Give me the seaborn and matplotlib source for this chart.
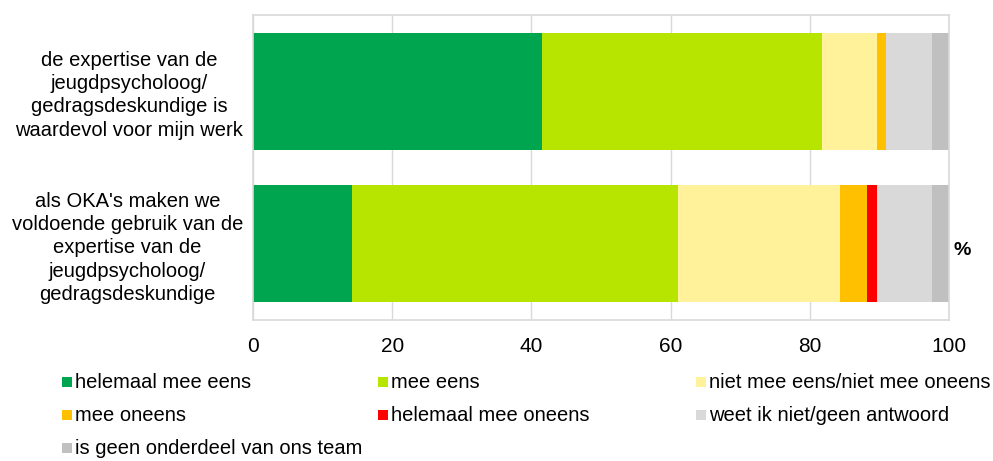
import numpy as np
import pandas as pd
import seaborn as sns
from matplotlib import pyplot as plt
from matplotlib.patches import Rectangle

# Statements (y categories)
statements = [
    "de expertise van de\njeugdpsycholoog/\ngedragsdeskundige is\nwaardevol voor mijn werk",
    "als OKA's maken we\nvoldoende gebruik van de\nexpertise van de\njeugdpsycholoog/\ngedragsdeskundige",
]

# Answer categories and colours
answers = [
    "helemaal mee eens",
    "mee eens",
    "niet mee eens/niet mee oneens",
    "mee oneens",
    "helemaal mee oneens",
    "weet ik niet/geen antwoord",
    "is geen onderdeel van ons team",
]
colors = ["#00A54F", "#B7E500", "#FFF29A", "#FFC000", "#FF0000", "#D9D9D9", "#C0C0C0"]

# Percentages per answer, one value per statement
helemaal_eens = [41.5, 14.2]
eens = [40.3, 46.9]
neutraal = [7.9, 23.3]
oneens = [1.2, 3.8]
helemaal_oneens = [0.0, 1.5]
weet_niet = [6.6, 7.8]
geen_onderdeel = [2.5, 2.5]

values = [helemaal_eens, eens, neutraal, oneens, helemaal_oneens, weet_niet, geen_onderdeel]

df = pd.DataFrame(np.array(values).T, columns=answers)
df["statement"] = statements
cum = df[answers].cumsum(axis=1)
cum["statement"] = statements

plt.rcParams["font.family"] = ["Liberation Sans", "DejaVu Sans"]

fig = plt.figure(figsize=(9.93, 4.61), dpi=100)
ax = fig.add_axes([253 / 993, 1 - 320 / 461, (949 - 253) / 993, (320 - 15) / 461])

# stacked bars: draw cumulative totals from last to first
for ans, col in reversed(list(zip(answers, colors))):
    sns.barplot(data=cum, x=ans, y="statement", color=col, width=0.77,
                orient="h", ax=ax, saturation=1, linewidth=0, zorder=2)

ax.set_xlim(0, 100)
ax.set_xticks([0, 20, 40, 60, 80, 100])
ax.grid(axis="x", color="#D9D9D9", linewidth=1, zorder=0)
ax.set_axisbelow(True)
ax.set_xlabel("")
ax.set_ylabel("")
for s in ax.spines.values():
    s.set_color("#D9D9D9")
    s.set_linewidth(1.2)
ax.tick_params(axis="both", length=0, colors="black")
ax.tick_params(axis="x", pad=12, labelsize=15)
ax.tick_params(axis="y", pad=7, labelsize=14.5)
for lab in ax.get_yticklabels():
    lab.set_multialignment("center")
    lab.set_linespacing(1.28)

fig.text(962 / 993, 1 - 250 / 461, "%", fontsize=14, fontweight="bold",
         ha="center", va="center")

# legend laid out in a 3-column grid
col_x = [62, 378, 696]
row_y = [382, 415, 448]
for i, (ans, col) in enumerate(zip(answers, colors)):
    x = col_x[i % 3]
    y = row_y[i // 3]
    fig.patches.append(Rectangle((x / 993, 1 - (y + 5) / 461), 10 / 993, 10 / 461,
                                 transform=fig.transFigure, facecolor=col,
                                 edgecolor="none", figure=fig))
    fig.text((x + 13) / 993, 1 - y / 461, ans, fontsize=14.5, ha="left", va="center")

fig.savefig("out.png", dpi=100)
